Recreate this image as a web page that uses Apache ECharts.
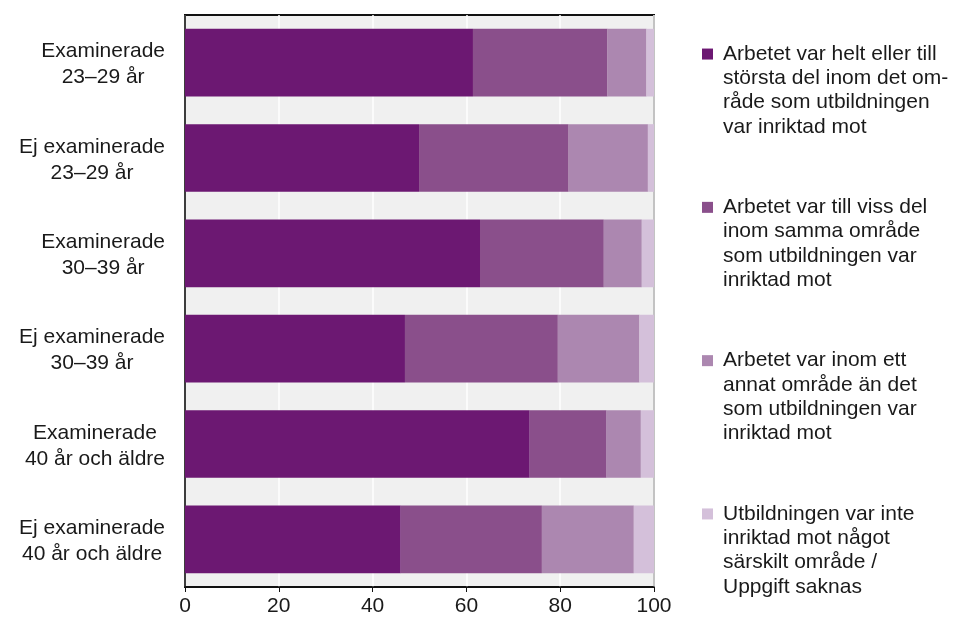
<!DOCTYPE html>
<html>
<head>
<meta charset="utf-8">
<script src="https://cdn.jsdelivr.net/npm/echarts@6/dist/echarts.min.js"></script>
<style>
html,body{margin:0;padding:0;background:#fff;}
#chart{width:953px;height:620px;}
</style>
</head>
<body>
<div id="chart"></div>
<script>
const categories = [
  "Examinerade\n23–29 år",
  "Ej examinerade\n23–29 år",
  "Examinerade\n30–39 år",
  "Ej examinerade\n30–39 år",
  "Examinerade\n40 år och äldre",
  "Ej examinerade\n40 år och äldre"
];
const seriesNames = [
  "Arbetet var helt eller till\nstörsta del inom det om-\nråde som utbildningen\nvar inriktad mot",
  "Arbetet var till viss del\ninom samma område\nsom utbildningen var\ninriktad mot",
  "Arbetet var inom ett\nannat område än det\nsom utbildningen var\ninriktad mot",
  "Utbildningen var inte\ninriktad mot något\nsärskilt område /\nUppgift saknas"
];
const helt   = [61.4, 49.9, 62.9, 46.9, 73.5, 46.0];
const viss   = [28.7, 31.9, 26.4, 32.6, 16.4, 30.1];
const annat  = [8.3, 16.9, 8.1, 17.4, 7.3, 19.6];
const saknas = [1.6, 1.3, 2.6, 3.1, 2.8, 4.3];
const xTicks = [0, 20, 40, 60, 80, 100];
const colors = ["#6C1872", "#8A4F8B", "#AC87B0", "#D4C0DA"];

const FONT = "Liberation Sans, Arial, sans-serif";
const values = [helt, viss, annat, saknas];

const chart = echarts.init(document.getElementById('chart'), null, {renderer: 'canvas'});
chart.setOption({
  animation: false,
  color: colors,
  textStyle: {fontFamily: FONT},
  grid: {
    left: 185, right: 299, top: 15, bottom: 33,
    show: true, backgroundColor: '#F0F0F0', borderColor: '#111', borderWidth: 2,
    containLabel: false
  },
  legend: {
    orient: 'vertical',
    left: 702, top: -31,
    padding: 0,
    itemWidth: 11, itemHeight: 11,
    itemGap: -16.8,
    icon: 'rect',
    selectedMode: false,
    formatter: function (name) { return "\n\n\n" + name; },
    textStyle: {fontFamily: FONT, fontSize: 21, lineHeight: 24.3, color: '#1a1a1a', padding: [0, 0, 0, 5]},
    data: seriesNames
  },
  xAxis: {
    type: 'value', min: xTicks[0], max: xTicks[xTicks.length - 1], interval: 20,
    axisLine: {show: true, lineStyle: {color: '#111', width: 1.5}},
    axisTick: {show: true, length: 5, lineStyle: {color: '#111'}},
    axisLabel: {fontFamily: FONT, fontSize: 21, color: '#1a1a1a', margin: 9},
    splitLine: {show: true, lineStyle: {color: '#ffffff', width: 1.5}}
  },
  yAxis: {
    type: 'category', data: categories, inverse: true,
    axisLine: {show: true, lineStyle: {color: '#111', width: 1.5}},
    axisTick: {show: false},
    axisLabel: {
      align: 'right', margin: 20, color: '#1a1a1a',
      padding: [4, 0, 0, 0],
      formatter: function (v) {
        return v.split("\n").map(function (s) { return "{a|" + s + "}"; }).join("\n");
      },
      rich: {a: {align: 'center', fontFamily: FONT, fontSize: 21, lineHeight: 26, color: '#1a1a1a'}}
    }
  },
  series: seriesNames.map(function (n, i) {
    return {
      name: n, type: 'bar', stack: 'total',
      barCategoryGap: '29%',
      data: values[i],
      itemStyle: {color: colors[i]}
    };
  })
});
</script>
</body>
</html>
